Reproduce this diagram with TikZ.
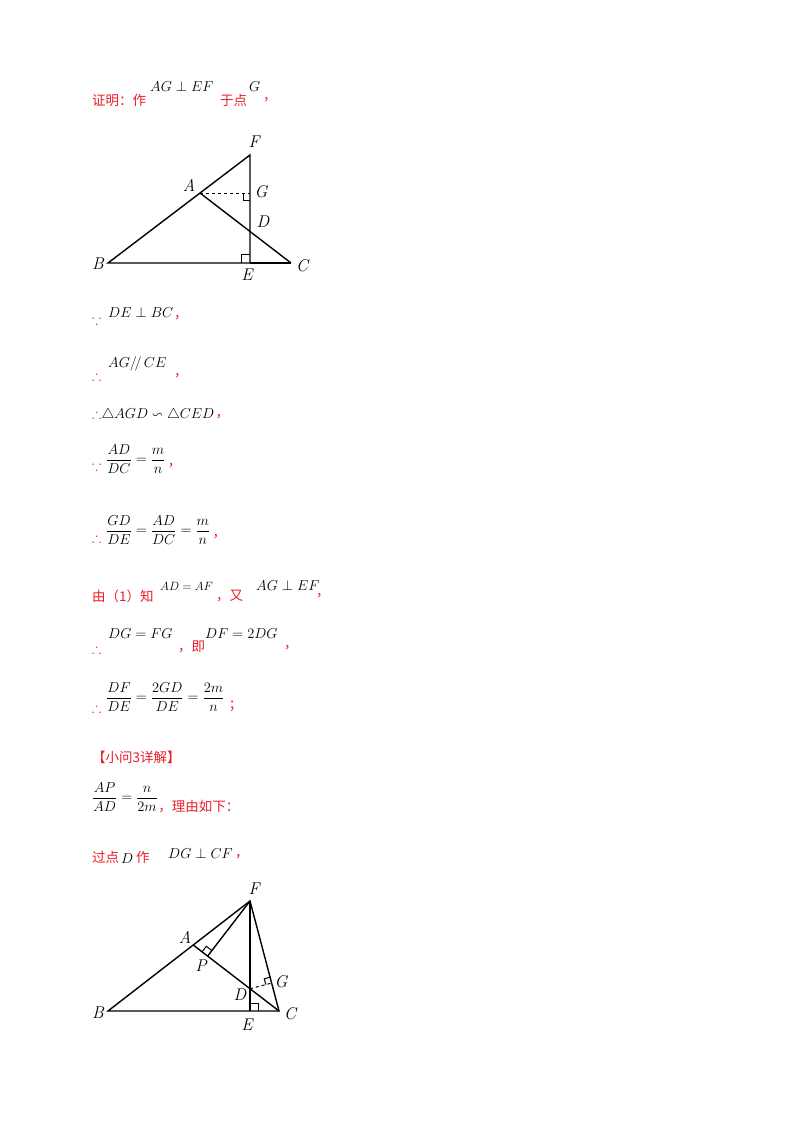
\documentclass[tikz,border=0pt]{standalone}
\usepackage{amsmath,amssymb}
\usepackage{fontspec}
\newfontfamily\cjk{Noto Sans CJK SC}
\usetikzlibrary{calc}
\definecolor{rd}{RGB}{235,30,40}
\tikzset{
 cn/.style={anchor=west,inner sep=0pt,text=rd,font=\cjk\fontsize{13.5}{15}\selectfont},
 mt/.style={anchor=west,inner sep=0pt,font=\fontsize{14}{16}\selectfont},
 ms/.style={anchor=west,inner sep=0pt,font=\fontsize{11.5}{13}\selectfont},
 lb/.style={inner sep=0pt,font=\fontsize{17}{19}\selectfont\itshape},
 ln/.style={line width=1.4pt},
 ra/.style={line width=1pt}
}
\newcommand{\thr}{\textcolor{rd}{$\therefore$}}
\newcommand{\bec}{\textcolor{rd}{$\because$}}
\begin{document}
\begin{tikzpicture}[x=1pt,y=-1pt]
\useasboundingbox (0,0) rectangle (800,1132);
% text
\node[cn] (t1) at (92,100) {证明：作};
\node[mt] (t1a) at (150,87) {$AG\perp EF$};
\node[cn] (t1b) at (220,100) {于点};
\node[mt] (t1c) at (249,87) {$G$};
\node[cn] (t1d) at (263,100) {，};
% figure 1
\coordinate (F) at (250,155);
\coordinate (B) at (108,263);
\coordinate (C) at (291,263);
\coordinate (E) at (250,263);
\coordinate (A) at ($(B)!0.648!(F)$);
\coordinate (G) at (E|-A);
\coordinate (D) at (intersection of A--C and E--F);
\draw[ln] (B)--(F)--(E)--cycle;
\draw[ln] (A)--(C);
\draw[ln] (E)--(C);
\draw[ra,dashed] (A)--(G);
\draw[ra] ($(E)+(-9,0)$)--++(0,-9)--++(9,0);
\draw[ra] ($(G)+(-7,0)$)--++(0,7)--++(7,0);
\node[lb] (lF) at (254,142) {F};
\node[lb] (lA) at (189,185) {A};
\node[lb] (lG) at (261,192) {G};
\node[lb] (lD) at (263,222) {D};
\node[lb] (lB) at (98,264) {B};
\node[lb] (lC) at (302,266) {C};
\node[lb] (lE) at (247,275) {E};
% lines
\node[mt] (l1) at (92,320) {\bec};
\node[mt] (l1a) at (108,312) {$DE\perp BC$};
\node[cn] (l1b) at (174,318) {，};
\node[mt] (l2) at (92,376) {\thr};
\node[mt] (l2a) at (108,364) {$AG/\!/\,CE$};
\node[cn] (l2b) at (174,376) {，};
\node[mt] (l3) at (92,415) {\thr$\triangle AGD\backsim\triangle CED$};
\node[cn] (l3b) at ($(l3.east)+(1,2)$) {，};
\node[mt] (l4) at (92,466) {\bec};
\node[mt] (l4a) at (106,459) {$\dfrac{AD}{DC}=\dfrac{m}{n}$};
\node[cn] (l4b) at ($(l4a.east)+(2,7)$) {，};
\node[mt] (l5) at (92,538) {\thr};
\node[mt] (l5a) at (106,530) {$\dfrac{GD}{DE}=\dfrac{AD}{DC}=\dfrac{m}{n}$};
\node[cn] (l5b) at ($(l5a.east)+(2,7)$) {，};
\node[cn] (l6) at (92,596) {由（1）知};
\node[ms] (l6a) at (160,586) {$AD=AF$};
\node[cn] (l6b) at (216,596) {，又};
\node[mt] (l6c) at (256,585) {$AG\perp EF$};
\node[cn] (l6d) at (316,596) {，};
\node[mt] (l7) at (92,649) {\thr};
\node[mt] (l7a) at (108,634) {$DG=FG$};
\node[cn] (l7b) at (178,647) {，即};
\node[mt] (l7c) at (205,634) {$DF=2DG$};
\node[cn] (l7d) at (284,648) {，};
\node[mt] (l8) at (92,708) {\thr};
\node[mt] (l8a) at (106,697) {$\dfrac{DF}{DE}=\dfrac{2GD}{DE}=\dfrac{2m}{n}$};
\node[cn] (l8b) at ($(l8a.east)+(4,9)$) {；};
\node[cn] (l9) at (92,757) {【小问3详解】};
\node[mt] (l10) at (92,797) {$\dfrac{AP}{AD}=\dfrac{n}{2m}$};
\node[cn] (l10a) at ($(l10.east)+(0,10)$) {，理由如下：};
\node[cn] (l11) at (92,857) {过点};
\node[mt] (l11a) at (121,859) {$D$};
\node[cn] (l11b) at (136,857) {作};
\node[mt] (l11c) at (168,853) {$DG\perp CF$};
\node[cn] (l11d) at ($(l11c.east)+(2,4)$) {，};
% figure 2
\coordinate (F2) at (250,901);
\coordinate (B2) at (108,1011);
\coordinate (C2) at (279,1011);
\coordinate (E2) at (250,1011);
\coordinate (A2) at ($(B2)!0.6!(F2)$);
\coordinate (D2) at (intersection of A2--C2 and E2--F2);
\coordinate (P2) at ($(A2)!(F2)!(C2)$);
\coordinate (G2) at ($(F2)!(D2)!(C2)$);
\draw[ln] (B2)--(F2)--(C2)--cycle;
\draw[ln] (A2)--(C2);
\draw[ln] (F2)--(E2);
\draw[ln] (F2)--(P2);
\draw[ra,dashed] (D2)--(G2);
\draw[ra] ($(E2)+(8,0)$)--++(0,-8)--++(-8,0);
\coordinate (p1) at ($(P2)!7pt!(F2)$);
\coordinate (p3) at ($(P2)!7pt!(A2)$);
\draw[ra] (p1) -- ($(p1)+(p3)-(P2)$) -- (p3);
\coordinate (g1) at ($(G2)!6pt!(D2)$);
\coordinate (g3) at ($(G2)!6pt!(F2)$);
\draw[ra] (g1) -- ($(g1)+(g3)-(G2)$) -- (g3);
\node[lb] (mF) at (254,889) {F};
\node[lb] (mA) at (185,937) {A};
\node[lb] (mP) at (201,966) {P};
\node[lb] (mD) at (240,995) {D};
\node[lb] (mG) at (281,982) {G};
\node[lb] (mB) at (98,1013) {B};
\node[lb] (mC) at (290,1014) {C};
\node[lb] (mE) at (247,1025) {E};
\end{tikzpicture}
\end{document}
